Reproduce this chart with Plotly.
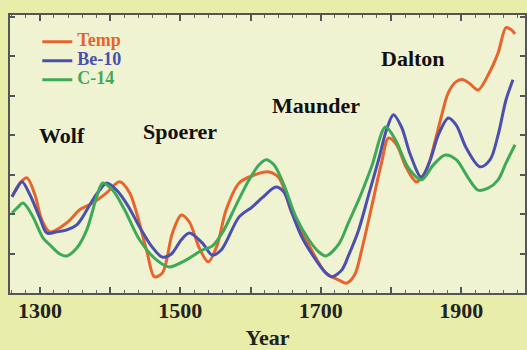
import plotly.graph_objects as go

# Temp (orange)
temp_years = [1260.3, 1271.6, 1281.6, 1292.9, 1302.8, 1314.2, 1338.3, 1356.7, 1375.2, 1395.0,
              1413.5, 1427.7, 1451.8, 1463.1, 1474.5, 1488.7, 1501.4, 1512.8, 1527.0, 1539.7,
              1552.5, 1565.2, 1583.7, 1605.0, 1626.2, 1640.4, 1658.9, 1683.0, 1707.1, 1725.5,
              1736.9, 1748.2, 1758.2, 1772.3, 1786.5, 1796.5, 1807.8, 1822.0, 1836.2, 1850.4,
              1863.1, 1871.6, 1881.6, 1892.9, 1902.8, 1912.8, 1924.1, 1938.3, 1952.5, 1963.8,
              1970.9, 1976.6]
temp_vals = [2.44, 2.79, 2.92, 2.49, 1.85, 1.55, 1.78, 2.11, 2.28, 2.54,
             2.82, 2.54, 1.09, 0.41, 0.51, 1.52, 1.98, 1.80, 1.14, 0.79,
             1.22, 2.11, 2.79, 2.99, 3.07, 2.92, 2.03, 1.22, 0.51, 0.33,
             0.25, 0.46, 1.09, 2.18, 3.30, 3.93, 3.76, 3.17, 2.82, 3.12,
             3.88, 4.47, 5.08, 5.36, 5.41, 5.30, 5.15, 5.53, 6.09, 6.73,
             6.68, 6.57]

# Be-10 (blue)
be10_years = [1260.3, 1267.4, 1274.5, 1285.8, 1300.0, 1309.9, 1324.1, 1338.3, 1352.5, 1361.0,
              1375.2, 1385.1, 1395.0, 1409.2, 1424.8, 1441.8, 1458.9, 1474.5, 1487.2, 1501.4,
              1512.8, 1531.2, 1545.4, 1558.2, 1583.7, 1602.1, 1616.3, 1636.2, 1647.5, 1658.9,
              1673.0, 1692.9, 1707.1, 1715.6, 1729.8, 1739.7, 1753.9, 1768.1, 1782.3, 1793.6,
              1803.5, 1814.9, 1827.7, 1843.3, 1856.0, 1867.4, 1881.6, 1892.9, 1907.1, 1926.9,
              1941.1, 1952.5, 1963.8, 1973.7]
be10_vals = [2.44, 2.66, 2.82, 2.49, 1.90, 1.52, 1.55, 1.60, 1.73, 1.93,
             2.36, 2.61, 2.79, 2.61, 2.23, 1.68, 1.19, 0.91, 0.99, 1.35,
             1.52, 1.27, 0.96, 1.09, 1.93, 2.18, 2.41, 2.69, 2.56, 2.03,
             1.42, 0.84, 0.51, 0.41, 0.58, 0.96, 1.60, 2.49, 3.38, 4.14,
             4.52, 4.21, 3.50, 2.94, 3.38, 4.01, 4.44, 4.26, 3.68, 3.20,
             3.38, 4.01, 4.90, 5.41]

# C-14 (green)
c14_years = [1260.3, 1268.8, 1275.9, 1288.7, 1304.3, 1314.2, 1328.4, 1338.3, 1352.5, 1366.7,
             1380.9, 1389.4, 1403.5, 1420.6, 1441.8, 1465.9, 1484.4, 1508.5, 1531.2, 1545.4,
             1559.6, 1579.4, 1597.9, 1612.1, 1622.0, 1633.3, 1647.5, 1664.5, 1683.0, 1697.2,
             1707.1, 1725.5, 1739.7, 1753.9, 1772.3, 1792.2, 1806.4, 1824.8, 1843.3, 1860.3,
             1877.3, 1892.9, 1909.9, 1924.1, 1938.3, 1952.5, 1963.8, 1976.6]
c14_vals = [2.03, 2.18, 2.28, 1.98, 1.40, 1.22, 0.99, 0.94, 1.14, 1.60,
            2.44, 2.79, 2.61, 2.11, 1.35, 0.84, 0.66, 0.84, 1.09, 1.19,
            1.52, 2.23, 2.87, 3.25, 3.38, 3.25, 2.74, 1.93, 1.35, 1.04,
            0.94, 1.24, 1.80, 2.36, 3.20, 4.21, 3.88, 3.17, 2.87, 3.25,
            3.50, 3.38, 2.92, 2.61, 2.66, 2.87, 3.30, 3.76]

x_tickvals = [1300, 1400, 1500, 1600, 1700, 1800, 1900]
x_ticktext = ["1300", "", "1500", "", "1700", "", "1900"]

minima_names = ["Wolf", "Spoerer", "Maunder", "Dalton"]
minima_x = [1331, 1499, 1693, 1831]
minima_y = [4.0, 4.1, 4.76, 5.94]

C_TEMP = "#E8642C"
C_BE = "#4B4FB0"
C_C14 = "#3EAA58"
BG = "#E8EDA9"

fig = go.Figure()
for yrs, vals, name, col in [
    (temp_years, temp_vals, "Temp", C_TEMP),
    (be10_years, be10_vals, "Be-10", C_BE),
    (c14_years, c14_vals, "C-14", C_C14),
]:
    fig.add_trace(go.Scatter(
        x=yrs, y=vals, mode="lines",
        name=f'<span style="color:{col};font-size:18px">{name}</span>',
        line=dict(color=col, width=3, shape="spline", smoothing=0.9),
        hoverinfo="skip",
    ))

for n, xx, yy in zip(minima_names, minima_x, minima_y):
    fig.add_annotation(x=xx, y=yy, text=n, showarrow=False,
                       font=dict(family="Liberation Serif", size=22, color="#111111", weight="bold"))

serif = "Liberation Serif"
fig.update_layout(
    width=527, height=350,
    margin=dict(l=10, r=0, t=15, b=57),
    paper_bgcolor=BG,
    plot_bgcolor="#F0F3D2",
    showlegend=True,
    legend=dict(x=0.053, y=0.956, xanchor="left", yanchor="top",
                bgcolor="rgba(0,0,0,0)",
                font=dict(family=serif, size=12, weight="bold"),
                tracegroupgap=0, itemwidth=30),
    xaxis=dict(
        range=[1257.4, 1990.8],
        tickvals=x_tickvals, ticktext=x_ticktext,
        ticks="inside", ticklen=6, tickwidth=1.5, tickcolor="#555555",
        minor=dict(dtick=20, ticks="inside", ticklen=3, tickcolor="#666666", tickwidth=1),
        showline=True, linecolor="#555555", linewidth=2, mirror="allticks",
        showgrid=False, zeroline=False,
        ticklabelstandoff=-3,
        tickfont=dict(family=serif, size=22, color="#222222", weight="bold"),
        title=dict(text="Year", font=dict(family=serif, size=22, color="#222222", weight="bold"),
                   standoff=9),
    ),
    yaxis=dict(
        range=[0, 7.05], dtick=1, tick0=0,
        showticklabels=False,
        ticks="inside", ticklen=5, tickwidth=1.5, tickcolor="#555555",
        showline=True, linecolor="#555555", linewidth=2, mirror="allticks",
        showgrid=False, zeroline=False,
    ),
)

fig.write_html(
    "out.html",
    config={"displayModeBar": False},
    post_script=f"document.body.style.margin='0';document.body.style.background='{BG}';",
)
